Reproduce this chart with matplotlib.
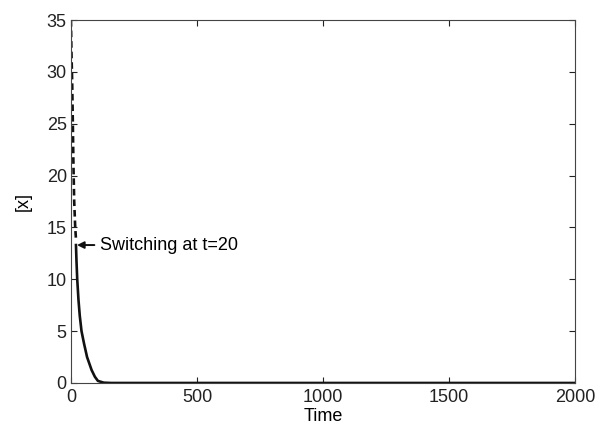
import matplotlib
matplotlib.use("Agg")
import matplotlib.pyplot as plt

# Data
t_before = [0, 2, 5, 7, 10, 13, 17, 20]
x_before = [35, 32, 29, 26, 21, 17.5, 15, 13.9]

t_after = [20, 22, 25, 30, 35, 42, 52, 64, 82, 95, 107, 130, 160, 500, 1000, 1500, 2000]
x_after = [13.3, 11.8, 10.0, 8.0, 6.5, 5.0, 3.8, 2.5, 1.25, 0.6, 0.2, 0.03, 0.0, 0.0, 0.0, 0.0, 0.0]

xticks = [0, 500, 1000, 1500, 2000]
yticks = [0, 5, 10, 15, 20, 25, 30, 35]

plt.rcParams['font.family'] = ['Liberation Sans', 'DejaVu Sans']

fig = plt.figure(figsize=(5.96, 4.26), dpi=100)
ax = fig.add_axes([0.119, 0.101, 0.846, 0.852])

ax.plot(t_before, x_before, color='#111111', lw=1.9, linestyle=(0, (2.5, 1.5)))
ax.plot(t_after, x_after, color='#111111', lw=1.9)

ax.annotate('Switching at t=20', xy=(24, 13.3), xytext=(115, 13.3),
            fontsize=13, va='center', ha='left',
            arrowprops=dict(arrowstyle='-|>', color='#111111', lw=1.4,
                            mutation_scale=10, shrinkA=2, shrinkB=0))

ax.set_xlim(0, 2000)
ax.set_ylim(0, 35)
ax.set_xticks(xticks)
ax.set_yticks(yticks)
ax.tick_params(axis='x', pad=4)
ax.tick_params(direction='in', length=4, width=0.8, top=True, right=True,
               labelsize=13, colors='#222222')
ax.tick_params(axis='y', pad=3)
for s in ax.spines.values():
    s.set_linewidth(0.8)
    s.set_color('#444444')
ax.set_xlabel('Time', fontsize=13, labelpad=2)
ax.set_ylabel('[x]', fontsize=13, labelpad=11)

fig.savefig('out.png', dpi=100)
